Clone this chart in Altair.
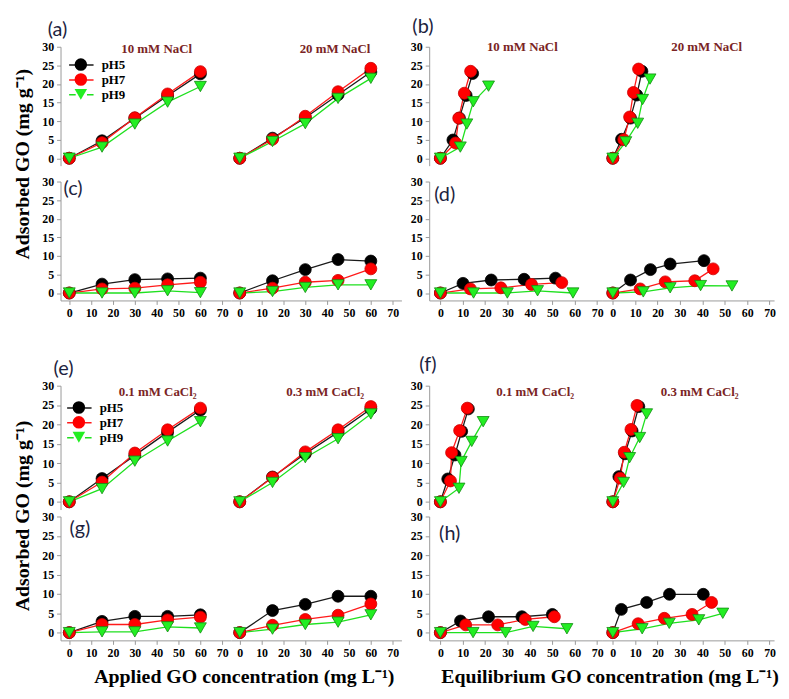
import altair as alt
import pandas as pd

PH = ["pH5", "pH7", "pH9"]
LINE_COLORS = ["#1a1a1a", "#ff1a1a", "#1fe01f"]
FILL_COLORS = ["#000000", "#ff0000", "#22ee22"]
EDGE_COLORS = ["#000000", "#cc0000", "#128a12"]
SHAPES = ["circle", "circle", "triangle-down"]

X_APPLIED = [0, 15, 30, 45, 60]
X_TICKS = [0, 10, 20, 30, 40, 50, 60, 70]
Y_TICKS = [0, 5, 10, 15, 20, 25, 30]

COND_NACL = ["10 mM NaCl", "20 mM NaCl"]
COND_CACL = ["0.1 mM CaCl\u2082", "0.3 mM CaCl\u2082"]
LETTERS = ["(a)", "(b)", "(c)", "(d)", "(e)", "(f)", "(g)", "(h)"]
Y_TITLE = "Adsorbed GO (mg g\u207b\u00b9)"
X_TITLE_L = "Applied GO concentration (mg L\u207b\u00b9)"
X_TITLE_R = "Equilibrium GO concentration (mg L\u207b\u00b9)"

# (a) adsorbed vs applied, NaCl
A_10 = {"pH5": [0, 4.7, 10.8, 16.8, 22.7], "pH7": [0, 4.2, 10.9, 17.3, 23.3], "pH9": [0, 3.0, 9.2, 15.1, 19.3]}
A_20 = {"pH5": [0, 5.4, 10.9, 17.1, 23.2], "pH7": [0, 5.1, 11.3, 17.9, 24.2], "pH9": [0, 4.5, 9.3, 16.1, 21.5]}
# (b) adsorbed vs equilibrium, NaCl
B_10_X = {"pH5": [0, 5.6, 8.5, 11.5, 14.4], "pH7": [0, 6.8, 8.2, 10.7, 13.5], "pH9": [0, 8.9, 11.8, 14.7, 21.5]}
B_10_Y = {"pH5": [0, 4.9, 10.8, 16.9, 22.8], "pH7": [0, 4.1, 10.8, 17.5, 23.4], "pH9": [0, 3.0, 9.2, 15.2, 19.4]}
B_20_X = {"pH5": [0, 3.9, 7.9, 10.7, 13.0], "pH7": [0, 4.9, 7.5, 9.2, 11.5], "pH9": [0, 5.8, 11.1, 13.3, 16.6]}
B_20_Y = {"pH5": [0, 5.1, 10.8, 17.0, 23.4], "pH7": [0, 5.0, 11.1, 17.7, 24.0], "pH9": [0, 4.4, 9.4, 15.8, 21.3]}
# (c) adsorbed vs applied
C_L = {"pH5": [0, 2.4, 3.6, 3.8, 4.0], "pH7": [0, 1.1, 1.3, 2.2, 2.9], "pH9": [0, 0.0, 0.0, 0.6, 0.1]}
C_R = {"pH5": [0, 3.3, 6.3, 9.0, 8.6], "pH7": [0, 1.3, 2.9, 3.4, 6.5], "pH9": [0, 0.4, 1.5, 2.2, 2.2]}
# (d) adsorbed vs equilibrium
D_L_X = {"pH5": [0, 10.1, 22.7, 37.4, 51.4], "pH7": [0, 13.4, 27.0, 40.7, 54.2], "pH9": [0, 14.8, 29.9, 43.4, 59.2]}
D_L_Y = {"pH5": [0, 2.6, 3.5, 3.7, 4.0], "pH7": [0, 1.1, 1.4, 2.3, 2.8], "pH9": [0, 0.0, 0.0, 0.6, 0.0]}
D_R_X = {"pH5": [0, 7.9, 16.8, 25.6, 40.7], "pH7": [0, 12.2, 23.4, 36.6, 44.8], "pH9": [0, 13.6, 25.6, 39.2, 53.2]}
D_R_Y = {"pH5": [0, 3.5, 6.3, 7.8, 8.7], "pH7": [0, 1.1, 3.0, 3.3, 6.5], "pH9": [0, 0.3, 1.4, 2.0, 1.9]}
# (e) adsorbed vs applied, CaCl2
E_L = {"pH5": [0, 6.0, 12.0, 18.0, 23.7], "pH7": [0, 5.1, 12.6, 18.6, 24.2], "pH9": [0, 3.4, 10.5, 15.7, 20.7]}
E_R = {"pH5": [0, 6.4, 12.4, 18.0, 24.0], "pH7": [0, 6.3, 12.9, 18.6, 24.6], "pH9": [0, 5.0, 11.4, 16.3, 22.7]}
# (f) adsorbed vs equilibrium, CaCl2
F_L_X = {"pH5": [0, 3.3, 6.5, 9.5, 12.5], "pH7": [0, 4.5, 5.0, 8.6, 12.0], "pH9": [0, 8.3, 9.3, 14.0, 19.1]}
F_L_Y = {"pH5": [0, 5.9, 12.1, 18.2, 24.0], "pH7": [0, 5.4, 12.7, 18.4, 24.2], "pH9": [0, 3.5, 10.4, 15.6, 20.7]}
F_R_X = {"pH5": [0, 2.7, 5.4, 8.6, 11.6], "pH7": [0, 3.3, 5.1, 8.1, 10.8], "pH9": [0, 4.8, 7.5, 12.0, 15.1]}
F_R_Y = {"pH5": [0, 6.5, 12.4, 18.3, 24.6], "pH7": [0, 6.1, 12.8, 18.7, 24.9], "pH9": [0, 5.0, 11.4, 16.6, 22.7]}
# (g) adsorbed vs applied
G_L = {"pH5": [0, 2.9, 4.2, 4.2, 4.6], "pH7": [0, 2.1, 2.1, 3.3, 4.0], "pH9": [0, 0.2, 0.2, 1.5, 1.2]}
G_R = {"pH5": [0, 5.7, 7.3, 9.4, 9.4], "pH7": [0, 1.9, 3.4, 4.5, 7.4], "pH9": [0, 0.9, 2.1, 2.7, 4.6]}
# (h) adsorbed vs equilibrium
H_L_X = {"pH5": [0, 9.0, 21.5, 36.4, 50.0], "pH7": [0, 11.3, 25.6, 37.9, 50.9], "pH9": [0, 14.6, 29.1, 41.4, 56.5]}
H_L_Y = {"pH5": [0, 3.0, 4.1, 4.1, 4.7], "pH7": [0, 2.0, 2.0, 3.4, 4.1], "pH9": [0, 0.0, 0.0, 1.6, 1.0]}
H_R_X = {"pH5": [0, 3.8, 15.1, 25.3, 40.4], "pH7": [0, 11.3, 23.0, 35.4, 44.1], "pH9": [0, 13.1, 25.2, 38.4, 49.1]}
H_R_Y = {"pH5": [0, 6.0, 7.8, 9.9, 9.9], "pH7": [0, 2.3, 3.7, 4.7, 7.8], "pH9": [0, 1.0, 2.4, 3.3, 5.0]}

SERIF = "Liberation Serif"
SANS = "Lato"
H_TOP, H_BOT = 120, 125
Y_DOM = [-2, 30]
L_DOM, L_W = [-4, 74], 172
R_DOM, R_W = [-5, 72], 174
COL_GAP = 28
ROW_GAPS = [1, 16, 86, 7]
TITLE_RED = "#7a2424"


def frame(xs, ys):
    rows = []
    for p in PH:
        xv = xs[p] if isinstance(xs, dict) else xs
        for i, (a, b) in enumerate(zip(xv, ys[p])):
            rows.append({"pH": p, "series": p, "marker": p, "i": i, "x": a, "y": b})
    return pd.DataFrame(rows)


def sub(xs, ys, dom, width, height, yaxis=False, xaxis=False, cond=None, cdx=0, cdy=0,
        legend=None, ytitle=None, ytitle_y=0, xtitle=None, xtitle_x=0):
    df = frame(xs, ys)
    if xaxis:
        ax_kw = dict(values=X_TICKS, grid=False)
        if xtitle:
            ax_kw.update(title=xtitle, titleX=xtitle_x, titleY=37, titleAlign="center",
                         titleBaseline="middle", titleFont=SERIF, titleFontSize=20,
                         titleFontWeight="bold", titleColor="black")
        xenc = alt.X("x:Q", scale=alt.Scale(domain=dom, nice=False, zero=False),
                     axis=alt.Axis(**ax_kw), title=xtitle if xtitle else None)
    else:
        xenc = alt.X("x:Q", scale=alt.Scale(domain=dom, nice=False, zero=False), axis=None)
    if yaxis:
        ay_kw = dict(values=Y_TICKS, grid=False)
        if ytitle:
            ay_kw.update(title=ytitle, titleX=-38, titleY=ytitle_y, titleAngle=270,
                         titleAlign="center", titleBaseline="middle", titleFont=SERIF,
                         titleFontSize=20, titleFontWeight="bold", titleColor="black")
        yenc = alt.Y("y:Q", scale=alt.Scale(domain=Y_DOM, nice=False, zero=False),
                     axis=alt.Axis(**ay_kw), title=ytitle if ytitle else None)
    else:
        yenc = alt.Y("y:Q", scale=alt.Scale(domain=Y_DOM, nice=False, zero=False), axis=None)

    if legend is not None:
        lx, ly = legend
        common = dict(orient="none", legendX=lx, legendY=ly, title=None, padding=0,
                      symbolSize=160, labelFont=SERIF, labelFontSize=13,
                      labelFontWeight="bold", labelOffset=13, rowPadding=-1)
        leg_line = alt.Legend(symbolType="M-1.95,0L-0.9,0M0.9,0L1.95,0", symbolStrokeWidth=1.5,
                              symbolFillColor="transparent", labelColor="black", **common)
        leg_pt = alt.Legend(symbolStrokeColor="#222222", symbolStrokeWidth=0.6,
                            labelOpacity=0, **common)
    else:
        leg_line = None
        leg_pt = None

    base = alt.Chart(df).encode(x=xenc, y=yenc)
    line = base.mark_line(strokeWidth=1.3).encode(
        color=alt.Color("series:N", scale=alt.Scale(range=LINE_COLORS), legend=leg_line),
        order="i:Q",
    )
    pts = base.mark_point(filled=True, size=145, opacity=1, strokeWidth=0.8).encode(
        fill=alt.Fill("marker:N", scale=alt.Scale(range=FILL_COLORS), legend=leg_pt),
        shape=alt.Shape("marker:N", scale=alt.Scale(range=SHAPES), legend=leg_pt),
        stroke=alt.Stroke("pH:N", scale=alt.Scale(range=EDGE_COLORS), legend=None),
    )
    ch = alt.layer(line, pts).properties(width=width, height=height)
    if cond:
        ch = ch.properties(title=alt.TitleParams(
            cond, font=SERIF, fontSize=13, fontWeight="bold", color=TITLE_RED,
            anchor="middle", frame="group", baseline="middle", offset=0, dx=cdx, dy=cdy))
    return ch


def spacer(w, h, letter=None, ldx=0, ldy=0):
    ch = alt.Chart(pd.DataFrame({"v": [0]})).mark_point(opacity=0).encode(
        x=alt.X("v:Q", axis=None), y=alt.Y("v:Q", axis=None)
    ).properties(width=w, height=h)
    if letter:
        ch = ch.properties(title=alt.TitleParams(
            letter, font=SANS, fontSize=20, fontWeight="normal", color="#1c2340", anchor="start",
            frame="group", baseline="middle", offset=0, dx=ldx, dy=ldy))
    return ch


def gap_row(h, left_letter, lpos, right_letter, rpos):
    return [spacer(L_W, h, left_letter, *lpos), spacer(L_W, h), spacer(COL_GAP, h),
            spacer(R_W, h, right_letter, *rpos), spacer(R_W, h)]


cells = []
cells += gap_row(ROW_GAPS[0], LETTERS[0], (-13, 6), LETTERS[1], (-17, 3))
cells += [
    sub(X_APPLIED, A_10, L_DOM, L_W, H_TOP, yaxis=True, cond=COND_NACL[0], cdx=11, cdy=21,
        legend=(13.5, 11), ytitle=Y_TITLE, ytitle_y=118),
    sub(X_APPLIED, A_20, L_DOM, L_W, H_TOP, cond=COND_NACL[1], cdx=19, cdy=15),
    spacer(COL_GAP, H_TOP),
    sub(B_10_X, B_10_Y, R_DOM, R_W, H_TOP, yaxis=True, cond=COND_NACL[0], cdx=7, cdy=19),
    sub(B_20_X, B_20_Y, R_DOM, R_W, H_TOP, cond=COND_NACL[1], cdx=19, cdy=13),
]
cells += gap_row(ROW_GAPS[1], LETTERS[2], (3, 44), LETTERS[3], (5, 50))
cells += [
    sub(X_APPLIED, C_L, L_DOM, L_W, H_TOP, yaxis=True, xaxis=True),
    sub(X_APPLIED, C_R, L_DOM, L_W, H_TOP, xaxis=True),
    spacer(COL_GAP, H_TOP),
    sub(D_L_X, D_L_Y, R_DOM, R_W, H_TOP, yaxis=True, xaxis=True),
    sub(D_R_X, D_R_Y, R_DOM, R_W, H_TOP, xaxis=True),
]
cells += gap_row(ROW_GAPS[2], LETTERS[4], (-7, 89), LETTERS[5], (-10, 85))
cells += [
    sub(X_APPLIED, E_L, L_DOM, L_W, H_BOT, yaxis=True, cond=COND_CACL[0], cdx=12, cdy=25,
        legend=(11.5, 15), ytitle=Y_TITLE, ytitle_y=131),
    sub(X_APPLIED, E_R, L_DOM, L_W, H_BOT, cond=COND_CACL[1], cdx=9, cdy=19),
    spacer(COL_GAP, H_BOT),
    sub(F_L_X, F_L_Y, R_DOM, R_W, H_BOT, yaxis=True, cond=COND_CACL[0], cdx=20, cdy=25),
    sub(F_R_X, F_R_Y, R_DOM, R_W, H_BOT, cond=COND_CACL[1], cdx=12, cdy=19),
]
cells += gap_row(ROW_GAPS[3], LETTERS[6], (9, 40), LETTERS[7], (10, 45))
cells += [
    sub(X_APPLIED, G_L, L_DOM, L_W, H_BOT, yaxis=True, xaxis=True, xtitle=X_TITLE_L, xtitle_x=185),
    sub(X_APPLIED, G_R, L_DOM, L_W, H_BOT, xaxis=True),
    spacer(COL_GAP, H_BOT),
    sub(H_L_X, H_L_Y, R_DOM, R_W, H_BOT, yaxis=True, xaxis=True, xtitle=X_TITLE_R, xtitle_x=182),
    sub(H_R_X, H_R_Y, R_DOM, R_W, H_BOT, xaxis=True),
]

chart = alt.concat(*cells, columns=5, spacing=0, bounds="flush").resolve_legend(
    color="independent", fill="independent", shape="independent", stroke="independent"
).properties(
    padding={"left": 4, "top": 5, "right": 2, "bottom": 2}
).configure_view(stroke=None).configure_axis(
    domainColor="#9a9a9a", tickColor="#9a9a9a", tickSize=4, grid=False,
    labelFont=SERIF, labelFontSize=12, labelFontWeight="bold", labelColor="black", labelPadding=3,
)

chart.save("out.html", embed_options={"renderer": "svg", "actions": False})
